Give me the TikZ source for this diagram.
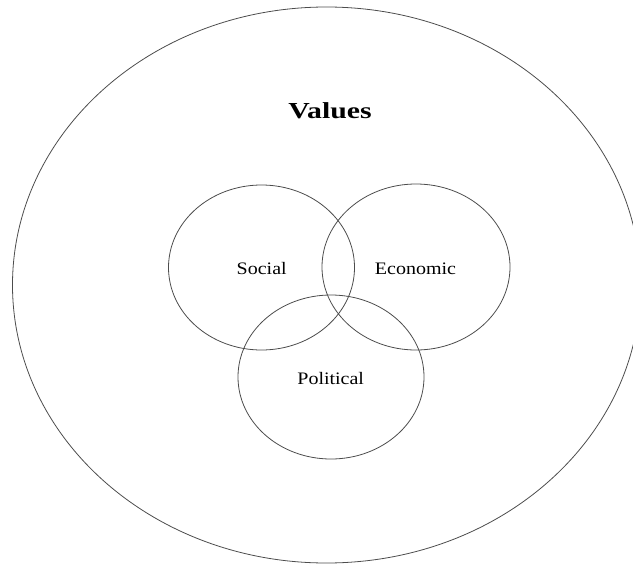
\documentclass[tikz,border=0pt]{standalone}
\usepackage{fontspec}
\setmainfont{Liberation Serif}
\definecolor{ringgray}{rgb}{0.3,0.3,0.3}

\begin{document}
\begin{tikzpicture}[line cap=round,line join=round,x=1bp,y=-1bp]
        \clip (0,0) rectangle (633,564);
        \tikzset{ring/.style={color=ringgray,line width=0.8bp},
                 lbl/.style={font=\fontsize{17.6}{20}\selectfont,xscale=1.14,transform shape,inner sep=0pt}}
        % outer set
        \draw [ring] (326.5,285) ellipse (314 and 278);
        \node[font=\bfseries\fontsize{23}{26}\selectfont,xscale=1.3,transform shape,inner sep=0pt] (values) at (330,110.5) {Values};
        % the three overlapping sets
        \draw [ring] (261.5,267.5) ellipse (93 and 82.5);
        \draw [ring] (416,267) ellipse (94 and 83);
        \draw [ring] (331,377) ellipse (93 and 82);
        \node[lbl] (social) at (261.7,268.5) {Social};
        \node[lbl] (economic) at (415.5,268.5) {Economic};
        \node[lbl] (political) at (330.7,378.5) {Political};
    \end{tikzpicture}
\end{document}
